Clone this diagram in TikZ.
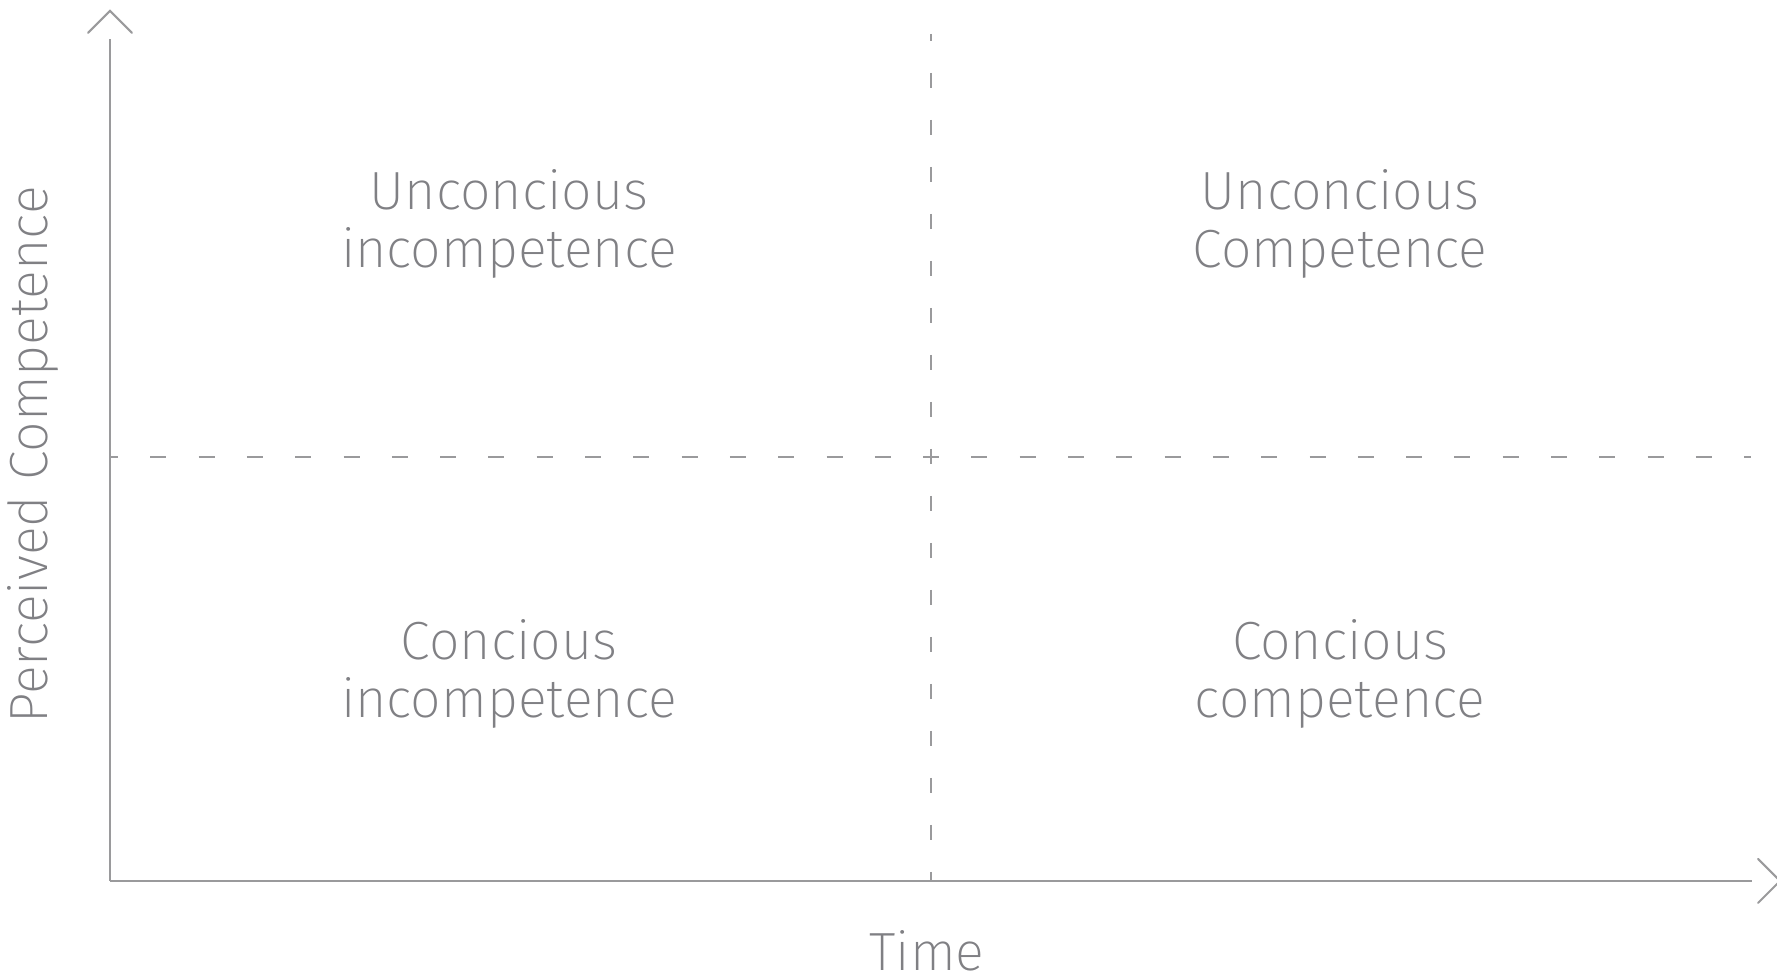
\documentclass[tikz,border=0pt]{standalone}
\usepackage{fontspec}
\setmainfont{Fira Sans ExtraLight}
\usetikzlibrary{positioning}
\definecolor{axisgray}{HTML}{9A9A9C}
\definecolor{labelgray}{HTML}{808084}

\begin{document}
\begin{tikzpicture}[x=1cm,y=1cm,line width=0.55pt]
  \useasboundingbox (0,0) rectangle (17.77,-9.77);
\tikzset{axis/.style={draw=axisgray,line width=0.6pt}}
\tikzset{tip/.style={draw=axisgray,line width=0.6pt,line cap=round}}
\tikzset{hsplit/.style={draw=axisgray,line width=0.6pt,dash pattern=on 0.16cm off 0.323cm}}
\tikzset{vsplit/.style={draw=axisgray,line width=0.6pt,dash pattern=on 0.15cm off 0.32cm}}
\tikzset{quad/.style={text=labelgray,align=center,inner sep=0pt,font=\fontsize{15.3}{16.5}\selectfont}}
\tikzset{axlabel/.style={text=labelgray,inner sep=0pt,font=\fontsize{15.3}{16.5}\selectfont}}
  \coordinate (O)    at (1.10,-8.81);
  \coordinate (ytop) at (1.10,-0.11);
  \coordinate (xend) at (17.80,-8.81);
  \coordinate (mid)  at (9.31,-4.57);
  % axes
  \draw[axis] (O) -- ([yshift=-0.28cm]ytop);
  \draw[axis] (O) -- ([xshift=-0.28cm]xend);
  \draw[tip] ([shift={(-0.22,-0.22)}]ytop) -- (ytop) -- ([shift={(0.22,-0.22)}]ytop);
  \draw[tip] ([shift={(-0.22,0.22)}]xend) -- (xend) -- ([shift={(-0.22,-0.22)}]xend);
  % quadrant split
  \draw[hsplit,dash phase=0.08cm] (mid -| O) -- (mid -| 17.51,0);
  \draw[vsplit,dash phase=0.08cm] (mid |- 0,-0.34) -- (mid |- O);
  % labels
  \node[quad] (uinc) at (5.09,-2.24) {Unconcious\\incompetence};
  \node[quad] (ucom) at (13.40,-2.24) {Unconcious\\Competence};
  \node[quad] (cinc) at (5.09,-6.74) {Concious\\incompetence};
  \node[quad] (ccom) at (13.40,-6.74) {Concious\\competence};
  \node[axlabel,rotate=90] (ylab) at (0.33,-4.55) {Perceived Competence};
  \node[axlabel] (xlab) at (9.27,-9.51) {Time};
\end{tikzpicture}
\end{document}
